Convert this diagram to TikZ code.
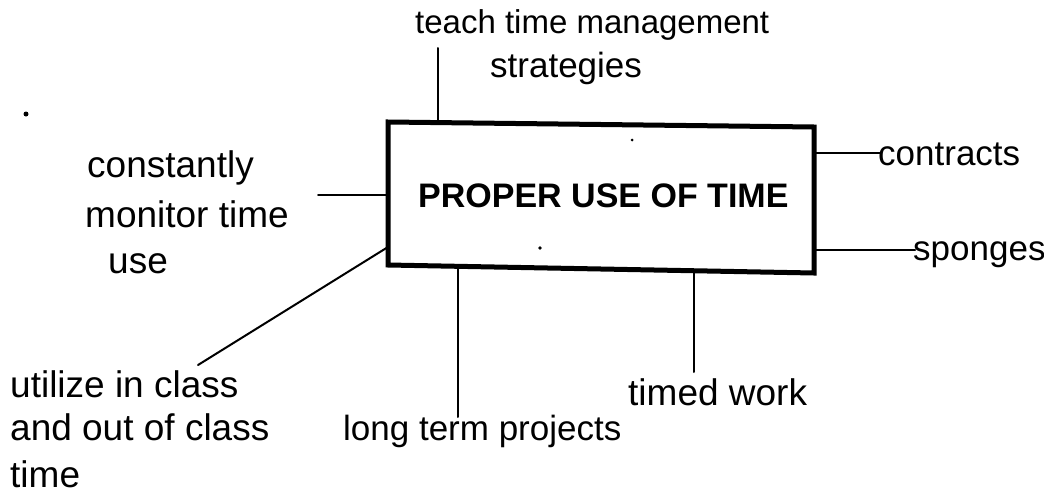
\documentclass[tikz,border=0pt]{standalone}
\usepackage{fontspec}
\setmainfont{Liberation Sans}
\begin{document}
\begin{tikzpicture}[x=1pt,y=-1pt,
  lbl/.style={anchor=base west,inner sep=0pt,font=\fontsize{37}{44}\selectfont},
  ttl/.style={anchor=base west,inner sep=0pt,font=\fontsize{34}{40}\bfseries\selectfont},
  conn/.style={line width=2pt,line cap=round},
  boxline/.style={line width=5pt,line join=miter}]
\useasboundingbox (0,0) rectangle (1044,498);
% box
\coordinate (tl) at (388,122);
\coordinate (tr) at (814,127);
\coordinate (br) at (814,273);
\coordinate (bl) at (388,265);
\draw[boxline] (tl) -- (tr) -- (br) -- (bl) -- cycle;
\node[ttl] (title) at (418,207) {PROPER USE OF TIME};
% labels
\node[lbl,font=\fontsize{33}{40}\selectfont] (teach1) at (415,33) {teach time management};
\node[lbl,font=\fontsize{35}{42}\selectfont] (teach2) at (490,77) {strategies};
\node[lbl] (mon1) at (87,177) {constantly};
\node[lbl] (mon2) at (85,227) {monitor time};
\node[lbl] (mon3) at (108,273) {use};
\node[lbl] (util1) at (10,397) {utilize in class};
\node[lbl] (util2) at (10,440) {and out of class};
\node[lbl] (util3) at (10,487) {time};
\node[lbl,font=\fontsize{35}{42}\selectfont] (long) at (343,440) {long term projects};
\node[lbl] (timed) at (628,405) {timed work};
\node[lbl,font=\fontsize{35}{42}\selectfont] (contr) at (878,165) {contracts};
\node[lbl,font=\fontsize{35}{42}\selectfont] (spong) at (913,260) {sponges};
% connector ends
\coordinate (teachA) at (438,48);  \coordinate (teachB) at (438,122);
\coordinate (monA) at (318,195);   \coordinate (monB) at (388,195);
\coordinate (utilA) at (198,365);  \coordinate (utilB) at (388,247);
\coordinate (longA) at (458,417);  \coordinate (longB) at (458,268);
\coordinate (timedA) at (694,372); \coordinate (timedB) at (694,272);
\coordinate (contrA) at (880,153); \coordinate (contrB) at (814,153);
\coordinate (spongA) at (915,250); \coordinate (spongB) at (814,250);
\draw[conn] (teachA) -- (teachB);
\draw[conn] (monA) -- (monB);
\draw[conn] (utilA) -- (utilB);
\draw[conn] (longA) -- (longB);
\draw[conn] (timedA) -- (timedB);
\draw[conn] (contrA) -- (contrB);
\draw[conn] (spongA) -- (spongB);
% stray dots
\fill (26,114) circle (2.5);
\fill (632,140) circle (1.5);
\fill (540,248) circle (1.8);
\end{tikzpicture}
\end{document}
